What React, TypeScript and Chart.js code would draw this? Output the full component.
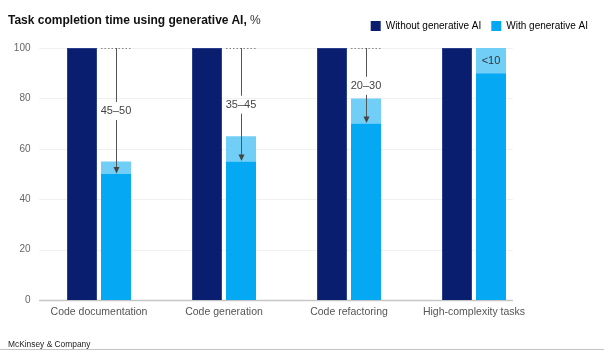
import { useEffect, useRef } from "react";
import { Chart, registerables } from "chart.js";

Chart.register(...registerables);

const categories = ["Code documentation", "Code generation", "Code refactoring", "High-complexity tasks"];
const seriesNames = ["Without generative AI", "With generative AI"];
const withoutAI = [100, 100, 100, 100];
const withAILow = [50, 55, 70, 90];
const withAIRange = [5, 10, 10, 10];
const rangeLabels = ["45–50", "35–45", "20–30", "<10"];
const yTicks = [0, 20, 40, 60, 80, 100];
const baselineValue = 100;

const NAVY = "#0A1E70";
const CYAN = "#05A9F3";
const LIGHT = "#70CEF7";
const FONT = "'Liberation Sans', Arial, sans-serif";

const gridPlugin = {
  id: "customGrid",
  beforeDatasetsDraw(chart: any) {
    const { ctx, chartArea } = chart;
    const y = chart.scales.y;
    ctx.save();
    y.ticks.forEach((t: any) => {
      const py = Math.round(y.getPixelForValue(t.value)) + 0.5;
      ctx.beginPath();
      ctx.strokeStyle = t.value === 0 ? "#c6c6c6" : "#f0f0f0";
      ctx.lineWidth = t.value === 0 ? 1.5 : 1;
      ctx.moveTo(chartArea.left + 2.5, py);
      ctx.lineTo(chartArea.right - 23.5, py);
      ctx.stroke();
    });
    ctx.restore();
  },
};

const annotationPlugin = {
  id: "rangeAnnotations",
  afterDatasetsDraw(chart: any) {
    const { ctx } = chart;
    const y = chart.scales.y;
    const withMeta = chart.getDatasetMeta(1);
    const rangeMeta = chart.getDatasetMeta(2);
    ctx.save();
    ctx.font = `11px ${FONT}`;
    ctx.textAlign = "center";
    ctx.textBaseline = "middle";
    categories.forEach((_, i) => {
      const bar = withMeta.data[i];
      const rbar = rangeMeta.data[i];
      const cx = bar.x;
      const half = bar.width / 2;
      const top = withAILow[i] + withAIRange[i];
      if (top < baselineValue) {
        const yTop = y.getPixelForValue(baselineValue);
        const yTarget = y.getPixelForValue(withAILow[i]);
        const yMid = y.getPixelForValue((baselineValue + withAILow[i]) / 2);
        // dotted reference line
        ctx.beginPath();
        ctx.setLineDash([1.5, 2]);
        ctx.strokeStyle = "#888";
        ctx.lineWidth = 1;
        ctx.moveTo(cx - half, Math.round(yTop) + 0.5);
        ctx.lineTo(cx + half, Math.round(yTop) + 0.5);
        ctx.stroke();
        ctx.setLineDash([]);
        // vertical arrow with gap for label
        const lx = Math.round(cx) + 0.5;
        ctx.strokeStyle = "#555";
        ctx.beginPath();
        ctx.moveTo(lx, yTop);
        ctx.lineTo(lx, yMid - 9);
        ctx.moveTo(lx, yMid + 9);
        ctx.lineTo(lx, yTarget - 6);
        ctx.stroke();
        ctx.fillStyle = "#444";
        ctx.beginPath();
        ctx.moveTo(lx, yTarget - 0.5);
        ctx.lineTo(lx - 3, yTarget - 7);
        ctx.lineTo(lx + 3, yTarget - 7);
        ctx.closePath();
        ctx.fill();
        ctx.fillStyle = "#444";
        ctx.fillText(rangeLabels[i], cx, yMid);
      } else {
        const yc = (rbar.y + rbar.base) / 2;
        ctx.fillStyle = "#333";
        ctx.fillText(rangeLabels[i], cx, yc);
      }
    });
    ctx.restore();
  },
};

export default function App() {
  const ref = useRef<HTMLCanvasElement | null>(null);

  useEffect(() => {
    if (!ref.current) return;
    const chart = new Chart(ref.current, {
      type: "bar",
      data: {
        labels: categories,
        datasets: [
          {
            label: seriesNames[0],
            data: withoutAI,
            backgroundColor: NAVY,
            borderColor: "#2C3F8C",
            borderWidth: 1,
            stack: "without",
            xAxisID: "x",
            yAxisID: "y",
          },
          {
            label: seriesNames[1],
            data: withAILow,
            backgroundColor: CYAN,
            stack: "with",
            xAxisID: "x",
            yAxisID: "y",
          },
          {
            label: "range",
            data: withAIRange,
            backgroundColor: LIGHT,
            stack: "with",
            xAxisID: "x",
            yAxisID: "y",
          },
        ],
      },
      options: {
        responsive: false,
        animation: false,
        categoryPercentage: 0.544,
        barPercentage: 0.882,
        layout: { padding: { left: 8, right: 14, top: 11, bottom: 39.4 } },
        plugins: {
          tooltip: { enabled: false },
          title: { display: false },
          legend: {
            display: true,
            position: "top",
            align: "end",
            labels: {
              boxWidth: 10,
              boxHeight: 10,
              padding: 10,
              color: "#555",
              font: { family: FONT, size: 10 },
              filter: (item: any) => item.datasetIndex !== 2,
              generateLabels: (chart: any) =>
                chart.data.datasets.map((ds: any, i: number) => ({
                  text: ds.label,
                  fillStyle: ds.backgroundColor,
                  strokeStyle: ds.backgroundColor,
                  lineWidth: 0,
                  datasetIndex: i,
                  hidden: false,
                })),
            },
          },
        },
        scales: {
          x: {
            type: "category",
            position: "bottom",
            stacked: true,
            grid: { display: false, drawTicks: false },
            border: { display: false },
            ticks: { color: "#555", font: { family: FONT, size: 10.5 }, padding: 6, maxRotation: 0 },
          },
          y: {
            type: "linear",
            position: "left",
            stacked: true,
            min: 0,
            max: 100,
            grid: { display: false, drawTicks: false },
            border: { display: false },
            ticks: { color: "#666", font: { family: FONT, size: 10 }, padding: 6 },
            afterBuildTicks: (s: any) => {
              s.ticks = yTicks.map((v) => ({ value: v }));
            },
            afterFit: (s: any) => {
              s.width = 28.5;
            },
          },
          topSpacer: {
            type: "linear",
            position: "top",
            display: true,
            grid: { display: false, drawTicks: false },
            border: { display: false },
            ticks: { display: false },
            afterFit: (s: any) => {
              s.height = 7;
            },
          },
          rightSpacer: {
            type: "linear",
            position: "right",
            display: true,
            grid: { display: false, drawTicks: false },
            border: { display: false },
            ticks: { display: false },
            afterFit: (s: any) => {
              s.width = 61.5;
            },
          },
        },
      } as any,
      plugins: [gridPlugin, annotationPlugin],
    });
    return () => chart.destroy();
  }, []);

  return (
    <div style={{ position: "absolute", left: 0, top: 0, width: 612, height: 364, background: "#fff", overflow: "hidden" }}>
      <canvas ref={ref} width={612} height={364} style={{ display: "block", width: 612, height: 364 }} />
      <div
        style={{
          position: "absolute",
          left: 8,
          top: 13,
          fontFamily: FONT,
          fontSize: 12,
          lineHeight: "14px",
          color: "#111",
          whiteSpace: "nowrap",
        }}
      >
        <span style={{ fontWeight: 700 }}>Task completion time using generative AI,</span>
        <span style={{ fontWeight: 400, color: "#333" }}> %</span>
      </div>
      <div
        style={{
          position: "absolute",
          left: 8,
          top: 339,
          fontFamily: FONT,
          fontSize: 8.4,
          lineHeight: "10px",
          color: "#222",
          whiteSpace: "nowrap",
        }}
      >
        McKinsey &amp; Company
      </div>
      <div style={{ position: "absolute", left: 0, top: 349, width: 604, height: 1, background: "#c4c4c4" }} />
    </div>
  );
}
